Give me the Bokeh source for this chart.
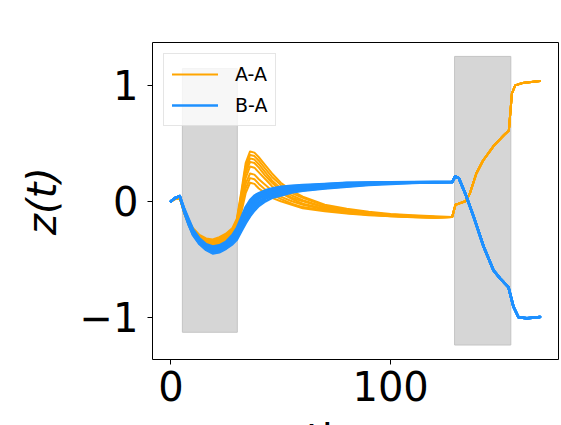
from bokeh.plotting import figure
from bokeh.models import Range1d, FixedTicker, Legend, LegendItem, Div
from bokeh.layouts import column
from bokeh.embed import file_html
from bokeh.resources import INLINE

# ---------------- data ----------------
t_early = [0, 2, 4, 6, 8, 10, 13, 16, 19, 22, 25, 28, 30, 32, 34, 36, 38, 40, 43, 46,
           50, 55, 60, 70, 80, 90, 100, 110, 120]

aa_early = [
    [0, 0.02, 0.03, -0.07, -0.16, -0.23, -0.29, -0.32, -0.33, -0.31, -0.28, -0.23, -0.15, 0.08, 0.33, 0.43, 0.42, 0.38, 0.31, 0.24, 0.16, 0.09, 0.04, -0.03, -0.065, -0.09, -0.11, -0.12, -0.13],
    [0, 0.02, 0.03, -0.08, -0.17, -0.24, -0.30, -0.33, -0.34, -0.32, -0.29, -0.24, -0.16, 0.06, 0.30, 0.40, 0.39, 0.35, 0.28, 0.21, 0.14, 0.07, 0.03, -0.04, -0.075, -0.10, -0.115, -0.125, -0.133],
    [0, 0.02, 0.03, -0.08, -0.17, -0.25, -0.31, -0.34, -0.35, -0.33, -0.30, -0.25, -0.17, 0.04, 0.27, 0.37, 0.36, 0.32, 0.25, 0.18, 0.11, 0.05, 0.01, -0.05, -0.085, -0.105, -0.12, -0.13, -0.135],
    [0, 0.02, 0.03, -0.09, -0.18, -0.25, -0.31, -0.35, -0.36, -0.34, -0.31, -0.26, -0.19, 0.02, 0.24, 0.34, 0.33, 0.29, 0.22, 0.16, 0.09, 0.03, 0.0, -0.055, -0.09, -0.11, -0.12, -0.13, -0.138],
    [0, 0.02, 0.03, -0.09, -0.18, -0.26, -0.32, -0.36, -0.37, -0.35, -0.32, -0.27, -0.20, -0.01, 0.20, 0.30, 0.29, 0.25, 0.19, 0.13, 0.07, 0.02, -0.02, -0.065, -0.095, -0.11, -0.125, -0.133, -0.14],
    [0, 0.02, 0.03, -0.10, -0.19, -0.27, -0.33, -0.37, -0.38, -0.36, -0.33, -0.28, -0.22, -0.04, 0.15, 0.24, 0.23, 0.19, 0.14, 0.09, 0.04, 0.0, -0.03, -0.07, -0.10, -0.115, -0.125, -0.135, -0.14],
    [0, 0.02, 0.03, -0.10, -0.20, -0.28, -0.34, -0.38, -0.39, -0.37, -0.34, -0.30, -0.24, -0.07, 0.11, 0.20, 0.19, 0.15, 0.10, 0.06, 0.02, -0.02, -0.05, -0.08, -0.10, -0.115, -0.13, -0.135, -0.142],
    [0, 0.02, 0.03, -0.10, -0.20, -0.28, -0.35, -0.39, -0.40, -0.38, -0.35, -0.31, -0.26, -0.10, 0.07, 0.16, 0.15, 0.11, 0.07, 0.03, 0.0, -0.03, -0.06, -0.085, -0.105, -0.12, -0.13, -0.137, -0.143],
]

ba_early = [
    [0, 0.03, 0.045, -0.06, -0.15, -0.24, -0.32, -0.37, -0.39, -0.38, -0.35, -0.29, -0.23, -0.14, -0.05, 0.01, 0.05, 0.07, 0.095, 0.11, 0.125, 0.135, 0.14, 0.15, 0.16, 0.163, 0.165, 0.166, 0.166],
    [0, 0.03, 0.045, -0.065, -0.16, -0.25, -0.33, -0.38, -0.40, -0.39, -0.36, -0.30, -0.24, -0.16, -0.07, -0.01, 0.035, 0.06, 0.085, 0.10, 0.12, 0.13, 0.135, 0.147, 0.157, 0.161, 0.164, 0.165, 0.166],
    [0, 0.03, 0.045, -0.07, -0.17, -0.26, -0.34, -0.39, -0.41, -0.40, -0.37, -0.32, -0.26, -0.18, -0.09, -0.03, 0.02, 0.05, 0.075, 0.09, 0.11, 0.12, 0.13, 0.143, 0.154, 0.16, 0.163, 0.165, 0.166],
    [0, 0.03, 0.045, -0.075, -0.175, -0.265, -0.345, -0.40, -0.42, -0.41, -0.38, -0.33, -0.27, -0.20, -0.11, -0.05, 0.0, 0.035, 0.065, 0.08, 0.10, 0.11, 0.12, 0.138, 0.15, 0.157, 0.161, 0.164, 0.165],
    [0, 0.03, 0.045, -0.08, -0.18, -0.27, -0.35, -0.405, -0.43, -0.42, -0.39, -0.34, -0.29, -0.21, -0.13, -0.07, -0.02, 0.02, 0.05, 0.07, 0.09, 0.10, 0.11, 0.13, 0.145, 0.155, 0.16, 0.163, 0.165],
    [0, 0.03, 0.045, -0.085, -0.19, -0.28, -0.36, -0.41, -0.44, -0.43, -0.40, -0.35, -0.30, -0.23, -0.15, -0.09, -0.04, 0.0, 0.035, 0.055, 0.075, 0.09, 0.10, 0.12, 0.138, 0.15, 0.157, 0.162, 0.165],
    [0, 0.03, 0.045, -0.09, -0.195, -0.285, -0.365, -0.415, -0.445, -0.435, -0.405, -0.36, -0.315, -0.245, -0.17, -0.11, -0.06, -0.02, 0.02, 0.045, 0.065, 0.085, 0.095, 0.115, 0.13, 0.145, 0.155, 0.16, 0.164],
    [0, 0.03, 0.045, -0.09, -0.20, -0.29, -0.37, -0.42, -0.45, -0.44, -0.41, -0.37, -0.33, -0.26, -0.19, -0.13, -0.08, -0.04, 0.0, 0.03, 0.05, 0.075, 0.09, 0.11, 0.125, 0.14, 0.15, 0.158, 0.164],
]

aa_tail_t = [128, 129.5, 131, 134, 136, 139, 142, 147, 151.5, 153.8, 155.2, 156.7, 160, 164, 168]
aa_tail = [-0.135, -0.03, -0.02, 0.0, 0.065, 0.24, 0.35, 0.48, 0.57, 0.61, 0.93, 1.0, 1.02, 1.03, 1.037]

ba_tail_t = [128, 129.4, 131, 134, 137.8, 142.3, 146.8, 149.9, 153.6, 155.9, 158.2, 162, 168]
ba_tail = [0.166, 0.215, 0.2, 0.066, -0.135, -0.39, -0.595, -0.667, -0.74, -0.91, -1.0, -1.01, -0.998]

span_left = [5.2, 129.1]
span_right = [30.2, 154.7]
span_bottom = [-1.13, -1.24]
span_top = [1.145, 1.25]

labels = ["A-A", "B-A"]
colors = ["#FFA500", "#1E90FF"]
x_ticks = [0, 100]
y_ticks = [-1, 0, 1]
x_title = "time"
y_title = "z(t)"

# ---------------- figure ----------------
p = figure(width=561, height=417, output_backend="svg", toolbar_location=None,
           x_range=Range1d(-8.4, 176.4), y_range=Range1d(-1.365, 1.37),
           min_border_left=152, min_border_right=3, min_border_top=42, min_border_bottom=58)
p.background_fill_color = "white"
p.border_fill_color = "white"
p.outline_line_color = "black"
p.outline_line_width = 1
p.grid.visible = False

p.quad(left=span_left, right=span_right, bottom=span_bottom, top=span_top,
       fill_color="#d6d6d6", line_color="#c4c4c4", line_width=1)

r_aa = []
for ys in aa_early:
    r_aa.append(p.line(t_early + aa_tail_t, ys + aa_tail, line_color=colors[0],
                       line_width=2, line_join="round", line_cap="round"))
r_ba = []
for ys in ba_early:
    r_ba.append(p.line(t_early + ba_tail_t, ys + ba_tail, line_color=colors[1],
                       line_width=2.5, line_join="round", line_cap="round"))

for ax in (p.xaxis[0], p.yaxis[0]):
    ax.axis_line_color = None
    ax.major_tick_line_color = "black"
    ax.major_tick_out = 5
    ax.major_tick_in = 0
    ax.minor_tick_line_color = None
    ax.major_label_text_font = "DejaVu Sans"
    ax.major_label_text_font_size = "40px"
    ax.major_label_text_color = "black"

p.xaxis.ticker = FixedTicker(ticks=x_ticks)
p.yaxis.ticker = FixedTicker(ticks=y_ticks)
p.yaxis.major_label_overrides = {-1: "\u22121", 0: "0", 1: "1"}
p.xaxis.major_label_standoff = 6
p.yaxis.major_label_standoff = 9

p.yaxis.axis_label = y_title
p.yaxis.axis_label_text_font = "DejaVu Sans"
p.yaxis.axis_label_text_font_style = "italic"
p.yaxis.axis_label_text_font_size = "40px"
p.yaxis.axis_label_text_color = "black"
p.yaxis.axis_label_standoff = 12

legend = Legend(items=[LegendItem(label=labels[0], renderers=[r_aa[0]]),
                       LegendItem(label=labels[1], renderers=[r_ba[0]])],
                location="top_left")
legend.margin = 11
legend.padding = 8
legend.spacing = 7
legend.glyph_width = 46
legend.glyph_height = 24
legend.label_height = 24
legend.label_standoff = 17
legend.label_text_font = "DejaVu Sans"
legend.label_text_font_size = "19px"
legend.label_text_color = "black"
legend.border_line_color = "#cccccc"
legend.border_line_width = 1
legend.background_fill_alpha = 0.8
p.add_layout(legend)

# x-axis title: only its top shows at the bottom edge, as in the reference
xlab = Div(text=('<div style="position:absolute; left:301px; top:-3px; '
                 'font-family:\'DejaVu Sans\'; font-size:40px; line-height:40px; '
                 'white-space:nowrap; color:black;">%s</div>' % x_title),
           width=561, height=8, styles={"overflow": "hidden", "position": "relative"})

layout = column(p, xlab, spacing=0)
open("out.html", "w").write(file_html(layout, INLINE))
